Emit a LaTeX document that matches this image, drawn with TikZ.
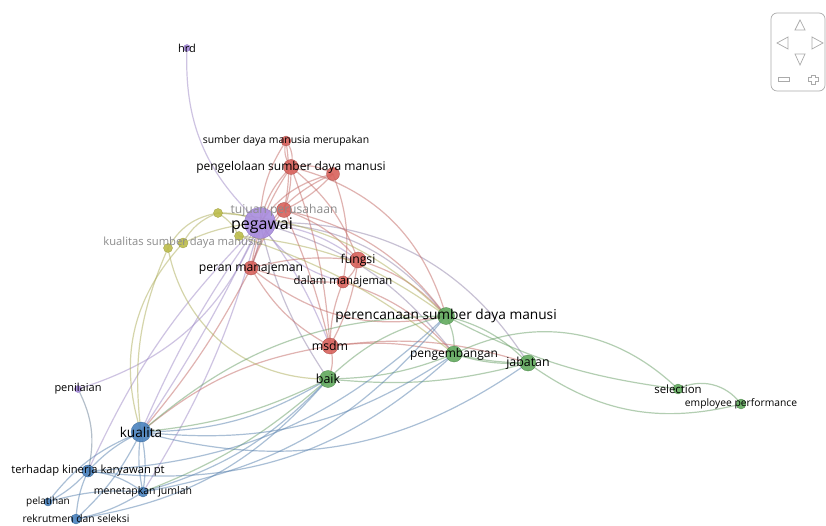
\documentclass[tikz,border=0pt]{standalone}
\usepackage{fontspec}
\setmainfont{Open Sans}
\pgfdeclarelayer{bg}
\pgfsetlayers{bg,main}
\definecolor{vred}{RGB}{216,98,92}
\definecolor{vgreen}{RGB}{98,170,94}
\definecolor{vblue}{RGB}{74,130,190}
\definecolor{vpur}{RGB}{168,140,222}
\definecolor{vyel}{RGB}{188,188,76}
\definecolor{navc}{RGB}{170,170,170}
\begin{document}
\begin{tikzpicture}[x=1pt,y=-1pt,
  vn/.style={circle,inner sep=0pt,minimum size=#1,fill opacity=0.9},
  rn/.style={vn=#1,fill=vred,draw=vred!80!black,line width=0.3pt},
  gn/.style={vn=#1,fill=vgreen,draw=vgreen!80!black,line width=0.3pt},
  bn/.style={vn=#1,fill=vblue,draw=vblue!80!black,line width=0.3pt},
  pn/.style={vn=#1,fill=vpur,draw=vpur!85!black,line width=0.3pt},
  yn/.style={vn=#1,fill=vyel,draw=vyel!85!black,line width=0.3pt},
  lb/.style={inner sep=0pt,text=black,font=\fontsize{#1}{#1}\selectfont},
  glb/.style={inner sep=0pt,text=black!45,font=\fontsize{#1}{#1}\selectfont},
  ed/.style={draw=#1!75!gray,line width=1.2pt,opacity=0.5},
  nav/.style={draw=navc,line width=0.7pt}]
\useasboundingbox (0,0) rectangle (826,526);
% nodes
\node[pn=7] (hrd) at (187,48) {};
\node[rn=10] (sdmm) at (286,141) {};
\node[rn=15] (peng) at (291,167) {};
\node[rn=13] (rx) at (333,174) {};
\node[rn=15] (tujuan) at (284,210) {};
\node[pn=31] (pegawai) at (260,223) {};
\node[yn=9] (ya) at (218,213) {};
\node[yn=9] (yb) at (239,236) {};
\node[yn=9] (yc) at (168,248) {};
\node[yn=10] (kualitas) at (183,243) {};
\node[rn=14] (peran) at (251,268) {};
\node[rn=16] (fungsi) at (358,260) {};
\node[rn=12] (dalam) at (343,282) {};
\node[gn=17] (psdm) at (446,316) {};
\node[rn=16] (msdm) at (330,346) {};
\node[gn=16] (pengem) at (454,354) {};
\node[gn=16] (jabatan) at (528,363) {};
\node[gn=17] (baik) at (328,379) {};
\node[gn=10] (selection) at (678,389) {};
\node[gn=10] (empf) at (741,404) {};
\node[pn=7] (penilaian) at (78,389) {};
\node[bn=20] (kualita) at (141,432) {};
\node[bn=12] (terhadap) at (88,471) {};
\node[bn=10] (menetapkan) at (143,492) {};
\node[bn=8] (pelatihan) at (48,502) {};
\node[bn=10] (rekrut) at (76,519) {};
% edges
\begin{pgfonlayer}{bg}
\fill[white] (0,0) rectangle (826,526);
% purple
\draw[ed=vpur] (hrd.center) to[bend right=25] (pegawai.center);
\draw[ed=vpur] (pegawai.center) to[bend left=25] (penilaian.center);
\draw[ed=vpur] (pegawai.center) to[bend right=6] (kualita.center);
\draw[ed=vpur] (pegawai.center) to[bend left=4] (kualita.center);
\draw[ed=vpur] (pegawai.center) to[bend right=10] (terhadap.center);
\draw[ed=vpur] (pegawai.center) to[bend left=8] (menetapkan.center);
\draw[ed=vpur!60!gray] (pegawai.center) to[bend left=25] (psdm.center);
\draw[ed=vpur!60!gray] (pegawai.center) to[bend left=18] (pengem.center);
\draw[ed=vpur!60!gray] (pegawai.center) to[bend left=30] (jabatan.center);
\draw[ed=vpur!60!gray] (pegawai.center) to[bend right=10] (baik.center);
\draw[ed=vpur] (pegawai.center) to[bend left=8] (msdm.center);
\draw[ed=vpur] (pegawai.center) to[bend left=15] (fungsi.center);
\draw[ed=vpur] (pegawai.center) to[bend right=20] (dalam.center);
\draw[ed=vpur] (pegawai.center) to[bend left=10] (peran.center);
% red
\draw[ed=vred] (sdmm.center) to[bend left=25] (peng.center);
\draw[ed=vred] (sdmm.center) to[bend right=25] (peng.center);
\draw[ed=vred] (sdmm.center) to[bend right=15] (pegawai.center);
\draw[ed=vred] (sdmm.center) to[bend left=10] (tujuan.center);
\draw[ed=vred] (peng.center) to[bend right=15] (pegawai.center);
\draw[ed=vred] (peng.center) to[bend left=10] (tujuan.center);
\draw[ed=vred] (peng.center) to[bend left=20] (rx.center);
\draw[ed=vred] (peng.center) to[bend right=12] (peran.center);
\draw[ed=vred] (peng.center) to[bend left=15] (fungsi.center);
\draw[ed=vred] (peng.center) to[bend left=8] (msdm.center);
\draw[ed=vred] (peng.center) to[bend left=30] (psdm.center);
\draw[ed=vred] (rx.center) to[bend right=20] (pegawai.center);
\draw[ed=vred] (rx.center) to[bend left=10] (tujuan.center);
\draw[ed=vred] (rx.center) to[bend left=15] (dalam.center);
\draw[ed=vred] (rx.center) to[bend right=25] (peran.center);
\draw[ed=vred] (tujuan.center) to[bend left=15] (fungsi.center);
\draw[ed=vred] (tujuan.center) to[bend left=20] (psdm.center);
\draw[ed=vred] (tujuan.center) to[bend left=5] (msdm.center);
\draw[ed=vred] (tujuan.center) to[bend right=10] (peran.center);
\draw[ed=vred] (peran.center) to[bend left=10] (fungsi.center);
\draw[ed=vred] (peran.center) to[bend right=10] (dalam.center);
\draw[ed=vred] (peran.center) to[bend right=15] (msdm.center);
\draw[ed=vred] (peran.center) to[bend left=6] (kualita.center);
\draw[ed=vred] (peran.center) to[bend right=25] (psdm.center);
\draw[ed=vred] (fungsi.center) to[bend left=20] (dalam.center);
\draw[ed=vred] (fungsi.center) to[bend left=10] (msdm.center);
\draw[ed=vred] (fungsi.center) to[bend left=15] (psdm.center);
\draw[ed=vred] (dalam.center) to[bend right=10] (msdm.center);
\draw[ed=vred] (dalam.center) to[bend left=15] (pengem.center);
\draw[ed=vred] (msdm.center) to[bend left=20] (baik.center);
\draw[ed=vred] (msdm.center) to[bend left=10] (pengem.center);
\draw[ed=vred] (msdm.center) to[bend left=12] (jabatan.center);
\draw[ed=vred] (msdm.center) to[bend right=15] (kualita.center);
% yellow
\draw[ed=vyel] (ya.center) to[bend left=15] (pegawai.center);
\draw[ed=vyel] (ya.center) to[bend right=20] (kualitas.center);
\draw[ed=vyel] (ya.center) to[bend right=25] (yc.center);
\draw[ed=vyel] (ya.center) to[bend left=20] (psdm.center);
\draw[ed=vyel] (ya.center) to[bend left=15] (yb.center);
\draw[ed=vyel] (kualitas.center) to[bend left=10] (pegawai.center);
\draw[ed=vyel] (yc.center) to[bend right=15] (kualita.center);
\draw[ed=vyel] (yc.center) to[bend right=40] (baik.center);
\draw[ed=vyel] (yb.center) to[bend left=15] (psdm.center);
\draw[ed=vyel] (yb.center) to[bend left=10] (pengem.center);
\draw[ed=vyel] (kualitas.center) to[bend right=30] (kualita.center);
% green
\draw[ed=vgreen] (psdm.center) to[bend left=15] (pengem.center);
\draw[ed=vgreen] (psdm.center) to[bend left=15] (jabatan.center);
\draw[ed=vgreen] (psdm.center) to[bend right=15] (baik.center);
\draw[ed=vgreen] (psdm.center) to[bend right=10] (selection.center);
\draw[ed=vgreen] (psdm.center) to[bend right=20] (kualita.center);
\draw[ed=vgreen] (pengem.center) to[bend right=10] (jabatan.center);
\draw[ed=vgreen] (pengem.center) to[bend right=6] (jabatan.center);
\draw[ed=vgreen] (pengem.center) to[bend left=35] (selection.center);
\draw[ed=vgreen] (pengem.center) to[bend left=10] (baik.center);
\draw[ed=vgreen] (jabatan.center) to[bend right=25] (empf.center);
\draw[ed=vgreen] (baik.center) to[bend right=10] (jabatan.center);
\draw[ed=vgreen] (baik.center) to[bend left=10] (kualita.center);
\draw[ed=vgreen] (baik.center) to[bend left=10] (menetapkan.center);
\draw[ed=vgreen] (selection.center) to[bend left=40] (empf.center);
% blue
\draw[ed=vblue] (kualita.center) to[bend right=10] (terhadap.center);
\draw[ed=vblue] (kualita.center) to[bend left=10] (menetapkan.center);
\draw[ed=vblue] (kualita.center) to[bend right=10] (menetapkan.center);
\draw[ed=vblue] (kualita.center) to[bend left=10] (rekrut.center);
\draw[ed=vblue] (kualita.center) to[bend right=15] (pelatihan.center);
\draw[ed=vblue] (kualita.center) to[bend right=15] (baik.center);
\draw[ed=vblue] (kualita.center) to[bend right=20] (pengem.center);
\draw[ed=vblue] (kualita.center) to[bend right=25] (jabatan.center);
\draw[ed=vblue] (terhadap.center) to[bend right=25] (pengem.center);
\draw[ed=vblue] (terhadap.center) to[bend left=15] (menetapkan.center);
\draw[ed=vblue] (terhadap.center) to[bend right=10] (rekrut.center);
\draw[ed=vblue] (terhadap.center) to[bend left=10] (pelatihan.center);
\draw[ed=vblue] (terhadap.center) to[bend right=20] (psdm.center);
\draw[ed=vblue] (pelatihan.center) to[bend left=10] (menetapkan.center);
\draw[ed=vblue] (rekrut.center) to[bend right=20] (baik.center);
\draw[ed=vblue] (rekrut.center) to[bend right=10] (menetapkan.center);
\draw[ed=vblue] (menetapkan.center) to[bend right=15] (baik.center);
\draw[ed=vblue] (menetapkan.center) to[bend right=20] (psdm.center);
\draw[ed=vblue!50!gray] (penilaian.center) to[bend left=20] (terhadap.center);
\end{pgfonlayer}
% labels
\node[lb=11] (hrd-t) at (hrd) {hrd};
\node[lb=10.4] (sdmm-t) at (sdmm) {sumber daya manusia merupakan};
\node[lb=12] (peng-t) at (peng) {pengelolaan sumber daya manusi};
\node[glb=12.1] (tujuan-t) at (tujuan) {tujuan perusahaan};
\node[lb=16] (pegawai-t) at (262,226) {pegawai};
\node[glb=11.2] (kualitas-t) at (kualitas) {kualitas sumber daya manusia};
\node[lb=12.2] (peran-t) at (peran) {peran manajeman};
\node[lb=12.2] (fungsi-t) at (fungsi) {fungsi};
\node[lb=11.3] (dalam-t) at (dalam) {dalam manajeman};
\node[lb=13.7] (psdm-t) at (psdm) {perencanaan sumber daya manusi};
\node[lb=12.3] (msdm-t) at (msdm) {msdm};
\node[lb=12] (pengem-t) at (pengem) {pengembangan};
\node[lb=12.4] (jabatan-t) at (jabatan) {jabatan};
\node[lb=12.5] (baik-t) at (baik) {baik};
\node[lb=11.4] (selection-t) at (selection) {selection};
\node[lb=10.3] (empf-t) at (empf) {employee performance};
\node[lb=11] (penilaian-t) at (penilaian) {penilaian};
\node[lb=13.6] (kualita-t) at (kualita) {kualita};
\node[lb=11.2] (terhadap-t) at (terhadap) {terhadap kinerja karyawan pt};
\node[lb=10.5] (menetapkan-t) at (menetapkan) {menetapkan jumlah};
\node[lb=10] (pelatihan-t) at (pelatihan) {pelatihan};
\node[lb=10.3] (rekrut-t) at (rekrut) {rekrutmen dan seleksi};
% navigation widget
\draw[nav,rounded corners=6pt] (771,13) rectangle (825,91);
\draw[nav] (800,20) -- (805,30) -- (795,30) -- cycle;
\draw[nav] (777,43) -- (788,37) -- (788,49) -- cycle;
\draw[nav] (823,43) -- (812,37) -- (812,49) -- cycle;
\draw[nav] (800,65) -- (805,54) -- (795,54) -- cycle;
\draw[nav] (778,77) rectangle (789,81);
\draw[nav] (811,75) -- (815,75) -- (815,77) -- (818,77) -- (818,81) -- (815,81) -- (815,84) -- (811,84) -- (811,81) -- (808,81) -- (808,77) -- (811,77) -- cycle;
\end{tikzpicture}
\end{document}
